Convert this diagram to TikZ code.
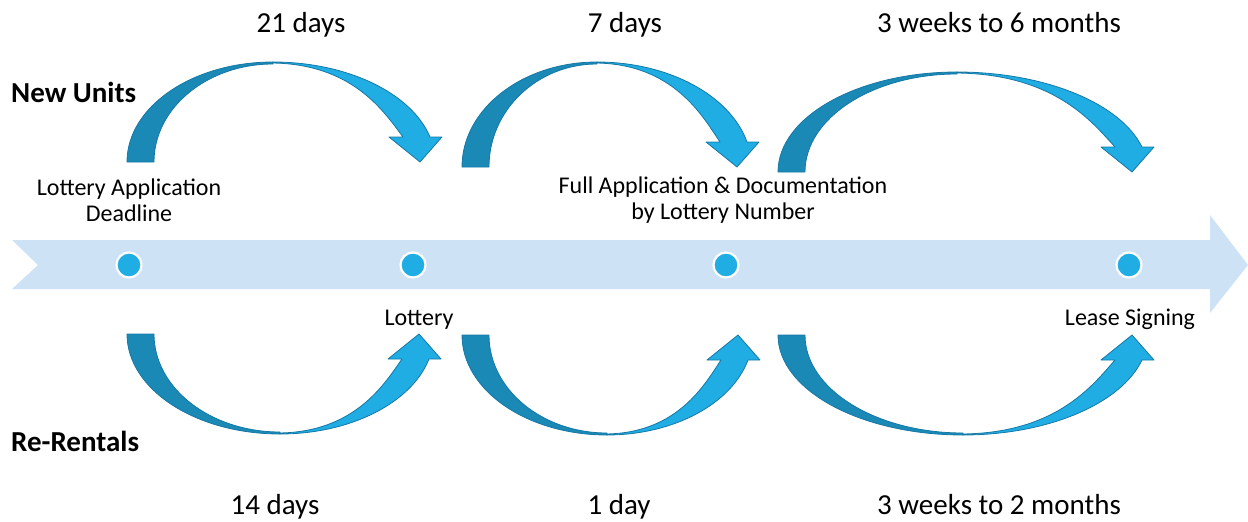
\documentclass[tikz,border=0pt]{standalone}
\usepackage{fontspec}
\setmainfont{Carlito}
\definecolor{band}{RGB}{205,227,245}
\definecolor{darkarr}{RGB}{26,137,182}
\definecolor{lightarr}{RGB}{31,173,228}
\definecolor{arrline}{RGB}{22,120,165}
\definecolor{dotc}{RGB}{31,173,228}
% #1 tail outer x, #2 peak x, #3 tip x, #4 base y (px, downward), #5 height, #6 1 = above, -1 = below
\newcommand\curvedband[6]{%
\begin{scope}[shift={(0,-#4)}, yscale=#6]
 \pgfmathsetmacro\rxl{#2-#1}
 \pgfmathsetmacro\rxli{#2-#1-27}
 \pgfmathsetmacro\ryd{#5-2}
 \pgfmathsetmacro\tout{asin(25/#5)}
 \pgfmathsetmacro\rxo{(#3+10-#2)/cos(\tout)}
 \pgfmathsetmacro\dd{#3-17-#2}
 \pgfmathsetmacro\cax{#3-17-0.14*\dd}
 \pgfmathsetmacro\cay{25+0.32*(#5-25)}
 \pgfmathsetmacro\cbx{#2+0.62*\dd}
 \pgfmathsetmacro\cby{#5-1.5}
 \filldraw[lightpart] (#2,#5) arc[start angle=90, end angle=\tout, x radius=\rxo pt, y radius=#5 pt]
   -- (#3+22,25) -- (#3,0) -- (#3-31,25) -- (#3-17,25)
   .. controls (\cax,\cay) and (\cbx,\cby) .. (#2-2,#5-1) -- cycle;
 \filldraw[darkpart] (#1,0) arc[start angle=180, end angle=90, x radius=\rxl pt, y radius=#5 pt]
   -- (#2,\ryd) arc[start angle=90, end angle=180, x radius=\rxli pt, y radius=\ryd pt] -- cycle;
\end{scope}}
\begin{document}
\begin{tikzpicture}[x=1pt,y=1pt,
  lightpart/.style={fill=lightarr, draw=arrline, line width=0.8pt, line join=round},
  darkpart/.style={fill=darkarr, draw=arrline, line width=0.8pt, line join=round},
  dot/.style={circle, minimum size=25pt, inner sep=0pt, fill=dotc, draw=white, line width=2.2pt},
  dur/.style={font=\fontsize{29}{32}\selectfont, anchor=base, inner sep=0pt},
  group/.style={font=\fontsize{29}{32}\selectfont\bfseries, anchor=base west, inner sep=0pt},
  lbl/.style={font=\fontsize{24}{26}\selectfont, align=center, inner sep=0pt}]
\useasboundingbox (0,0) rectangle (1248,-522);
% main timeline arrow
\fill[band] (12,-240) -- (1210,-240) -- (1210,-215) -- (1248,-265) -- (1210,-313)
  -- (1210,-289) -- (12,-289) -- (38,-265) -- cycle;
% curved arrows
\curvedband{127}{273}{420}{162}{100}{1}
\curvedband{462}{597}{737}{167}{105}{1}
\curvedband{778}{957}{1132}{172}{100}{1}
\curvedband{127}{280}{419}{334}{100}{-1}
\curvedband{462}{607}{738}{335}{100}{-1}
\curvedband{778}{963}{1132}{335}{100}{-1}
% dots
\node[dot] (d1) at (129,-265) {};
\node[dot] (d2) at (413,-265) {};
\node[dot] (d3) at (726,-265) {};
\node[dot] (d4) at (1129,-265) {};
% texts
\node[dur] (t1) at (301,-32) {21 days};
\node[dur] (t2) at (625,-32) {7 days};
\node[dur] (t3) at (999,-32) {3 weeks to 6 months};
\node[dur] (b1) at (275,-514) {14 days};
\node[dur] (b2) at (619,-514) {1 day};
\node[dur] (b3) at (999,-514) {3 weeks to 2 months};
\node[group] (nu) at (11,-102) {New Units};
\node[group] (rr) at (11,-451) {Re-Rentals};
\node[lbl] (l1) at (129,-200) {Lottery Application\\Deadline};
\node[lbl] (l2) at (723,-200) {Full Application \& Documentation\\by Lottery Number};
\node[lbl, anchor=base] (l3) at (419,-325) {Lottery};
\node[lbl, anchor=base] (l4) at (1130,-325) {Lease Signing};
\end{tikzpicture}
\end{document}
